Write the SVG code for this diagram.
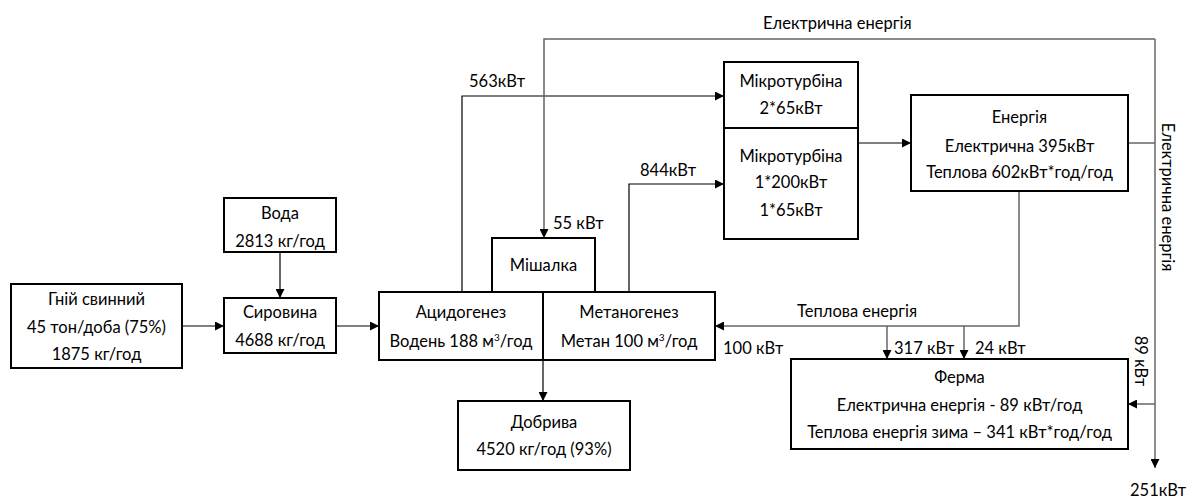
<svg xmlns="http://www.w3.org/2000/svg" width="1192" height="498" viewBox="0 0 1192 498">
<defs>
<marker id="ah" viewBox="0 0 10 10" refX="10" refY="5" markerWidth="9" markerHeight="9" markerUnits="userSpaceOnUse" orient="auto"><path d="M0,0 L10,5 L0,10 z" fill="#000"/></marker>
<style>
.box{fill:#fff;stroke:#000;stroke-width:2}
.t{font-family:Lato,"Open Sans","Liberation Sans",sans-serif;font-size:16.5px;fill:#000}
.c{text-anchor:middle}
.ln{fill:none;stroke:#000;stroke-width:1.2}
.gl{fill:none;stroke:#666;stroke-width:1.5}
</style>
</defs>
<rect width="1192" height="498" fill="#fff"/>
<g id="connectors">
<path class="ln" d="M182,326 H224" marker-end="url(#ah)"/>
<path class="ln" d="M280,252 V298" marker-end="url(#ah)"/>
<path class="ln" d="M336,326 H379" marker-end="url(#ah)"/>
<path class="ln" d="M543,360 V401" marker-end="url(#ah)"/>
<path class="ln" d="M462,292 V96 H724" marker-end="url(#ah)"/>
<path class="ln" d="M629,292 V184 H724" marker-end="url(#ah)"/>
<path class="ln" d="M858,143 H911" marker-end="url(#ah)"/>
<path class="gl" d="M1128,143 H1155"/>
<path class="gl" d="M1155,39 H544 V238" marker-end="url(#ah)"/>
<path class="gl" d="M1155,39 V468" marker-end="url(#ah)"/>
<path class="gl" d="M1155,404 H1128" marker-end="url(#ah)"/>
<path class="gl" d="M1019,191 V326 H715" marker-end="url(#ah)"/>
<path class="gl" d="M887,326 V359" marker-end="url(#ah)"/>
<path class="gl" d="M964,326 V359" marker-end="url(#ah)"/>
<text class="t" x="763" y="29">Електрична енергія</text>
<text class="t" x="469" y="87">563кВт</text>
<text class="t" x="640" y="176">844кВт</text>
<text class="t" x="553" y="229">55 кВт</text>
<text class="t" x="797" y="317">Теплова енергія</text>
<text class="t" x="723" y="354">100 кВт</text>
<text class="t" x="894" y="354">317 кВт</text>
<text class="t" x="975" y="354">24 кВт</text>
<text class="t" x="1130" y="496">251кВт</text>
<text class="t c" transform="translate(1135,361) rotate(90)">89 кВт</text>
<text class="t c" transform="translate(1162,197) rotate(90)">Електрична енергія</text>
</g>
<g id="gnij"><rect class="box" x="11" y="284" width="171" height="84"/>
<text class="t c" x="96.5" y="305">Гній свинний</text><text class="t c" x="96.5" y="333">45 тон/доба (75%)</text><text class="t c" x="96.5" y="360">1875 кг/год</text></g>
<g id="voda"><rect class="box" x="224" y="198" width="112" height="54"/>
<text class="t c" x="280" y="219">Вода</text><text class="t c" x="280" y="247">2813 кг/год</text></g>
<g id="syrovyna"><rect class="box" x="224" y="298" width="112" height="55"/>
<text class="t c" x="280" y="318">Сировина</text><text class="t c" x="280" y="346">4688 кг/год</text></g>
<g id="mishalka"><rect class="box" x="492" y="238" width="103" height="54"/>
<text class="t c" x="543.5" y="271">Мішалка</text></g>
<g id="acydogenez"><rect class="box" x="379" y="292" width="164" height="68"/>
<text class="t c" x="461" y="318">Ацидогенез</text><text class="t c" x="461" y="347">Водень 188 м<tspan font-size="10" dy="-6">3</tspan><tspan dy="6">/год</tspan></text></g>
<g id="metanogenez"><rect class="box" x="543" y="292" width="172" height="68"/>
<text class="t c" x="629" y="318">Метаногенез</text><text class="t c" x="629" y="347">Метан 100 м<tspan font-size="10" dy="-6">3</tspan><tspan dy="6">/год</tspan></text></g>
<g id="dobryva"><rect class="box" x="458" y="401" width="172" height="69"/>
<text class="t c" x="544" y="428">Добрива</text><text class="t c" x="544" y="455">4520 кг/год (93%)</text></g>
<g id="turbina1"><rect class="box" x="724" y="62" width="134" height="66"/>
<text class="t c" x="791" y="87">Мікротурбіна</text><text class="t c" x="791" y="114">2*65кВт</text></g>
<g id="turbina2"><rect class="box" x="724" y="128" width="134" height="111"/>
<text class="t c" x="791" y="162">Мікротурбіна</text><text class="t c" x="791" y="188">1*200кВт</text><text class="t c" x="791" y="216">1*65кВт</text></g>
<g id="energia"><rect class="box" x="911" y="95" width="217" height="96"/>
<text class="t c" x="1019.5" y="123">Енергія</text><text class="t c" x="1019.5" y="152">Електрична 395кВт</text><text class="t c" x="1019.5" y="178">Теплова 602кВт*год/год</text></g>
<g id="ferma"><rect class="box" x="791" y="359" width="337" height="90"/>
<text class="t c" x="959.5" y="383">Ферма</text><text class="t c" x="959.5" y="411">Електрична енергія - 89 кВт/год</text><text class="t c" x="959.5" y="438">Теплова енергія зима – 341 кВт*год/год</text></g>
</svg>
